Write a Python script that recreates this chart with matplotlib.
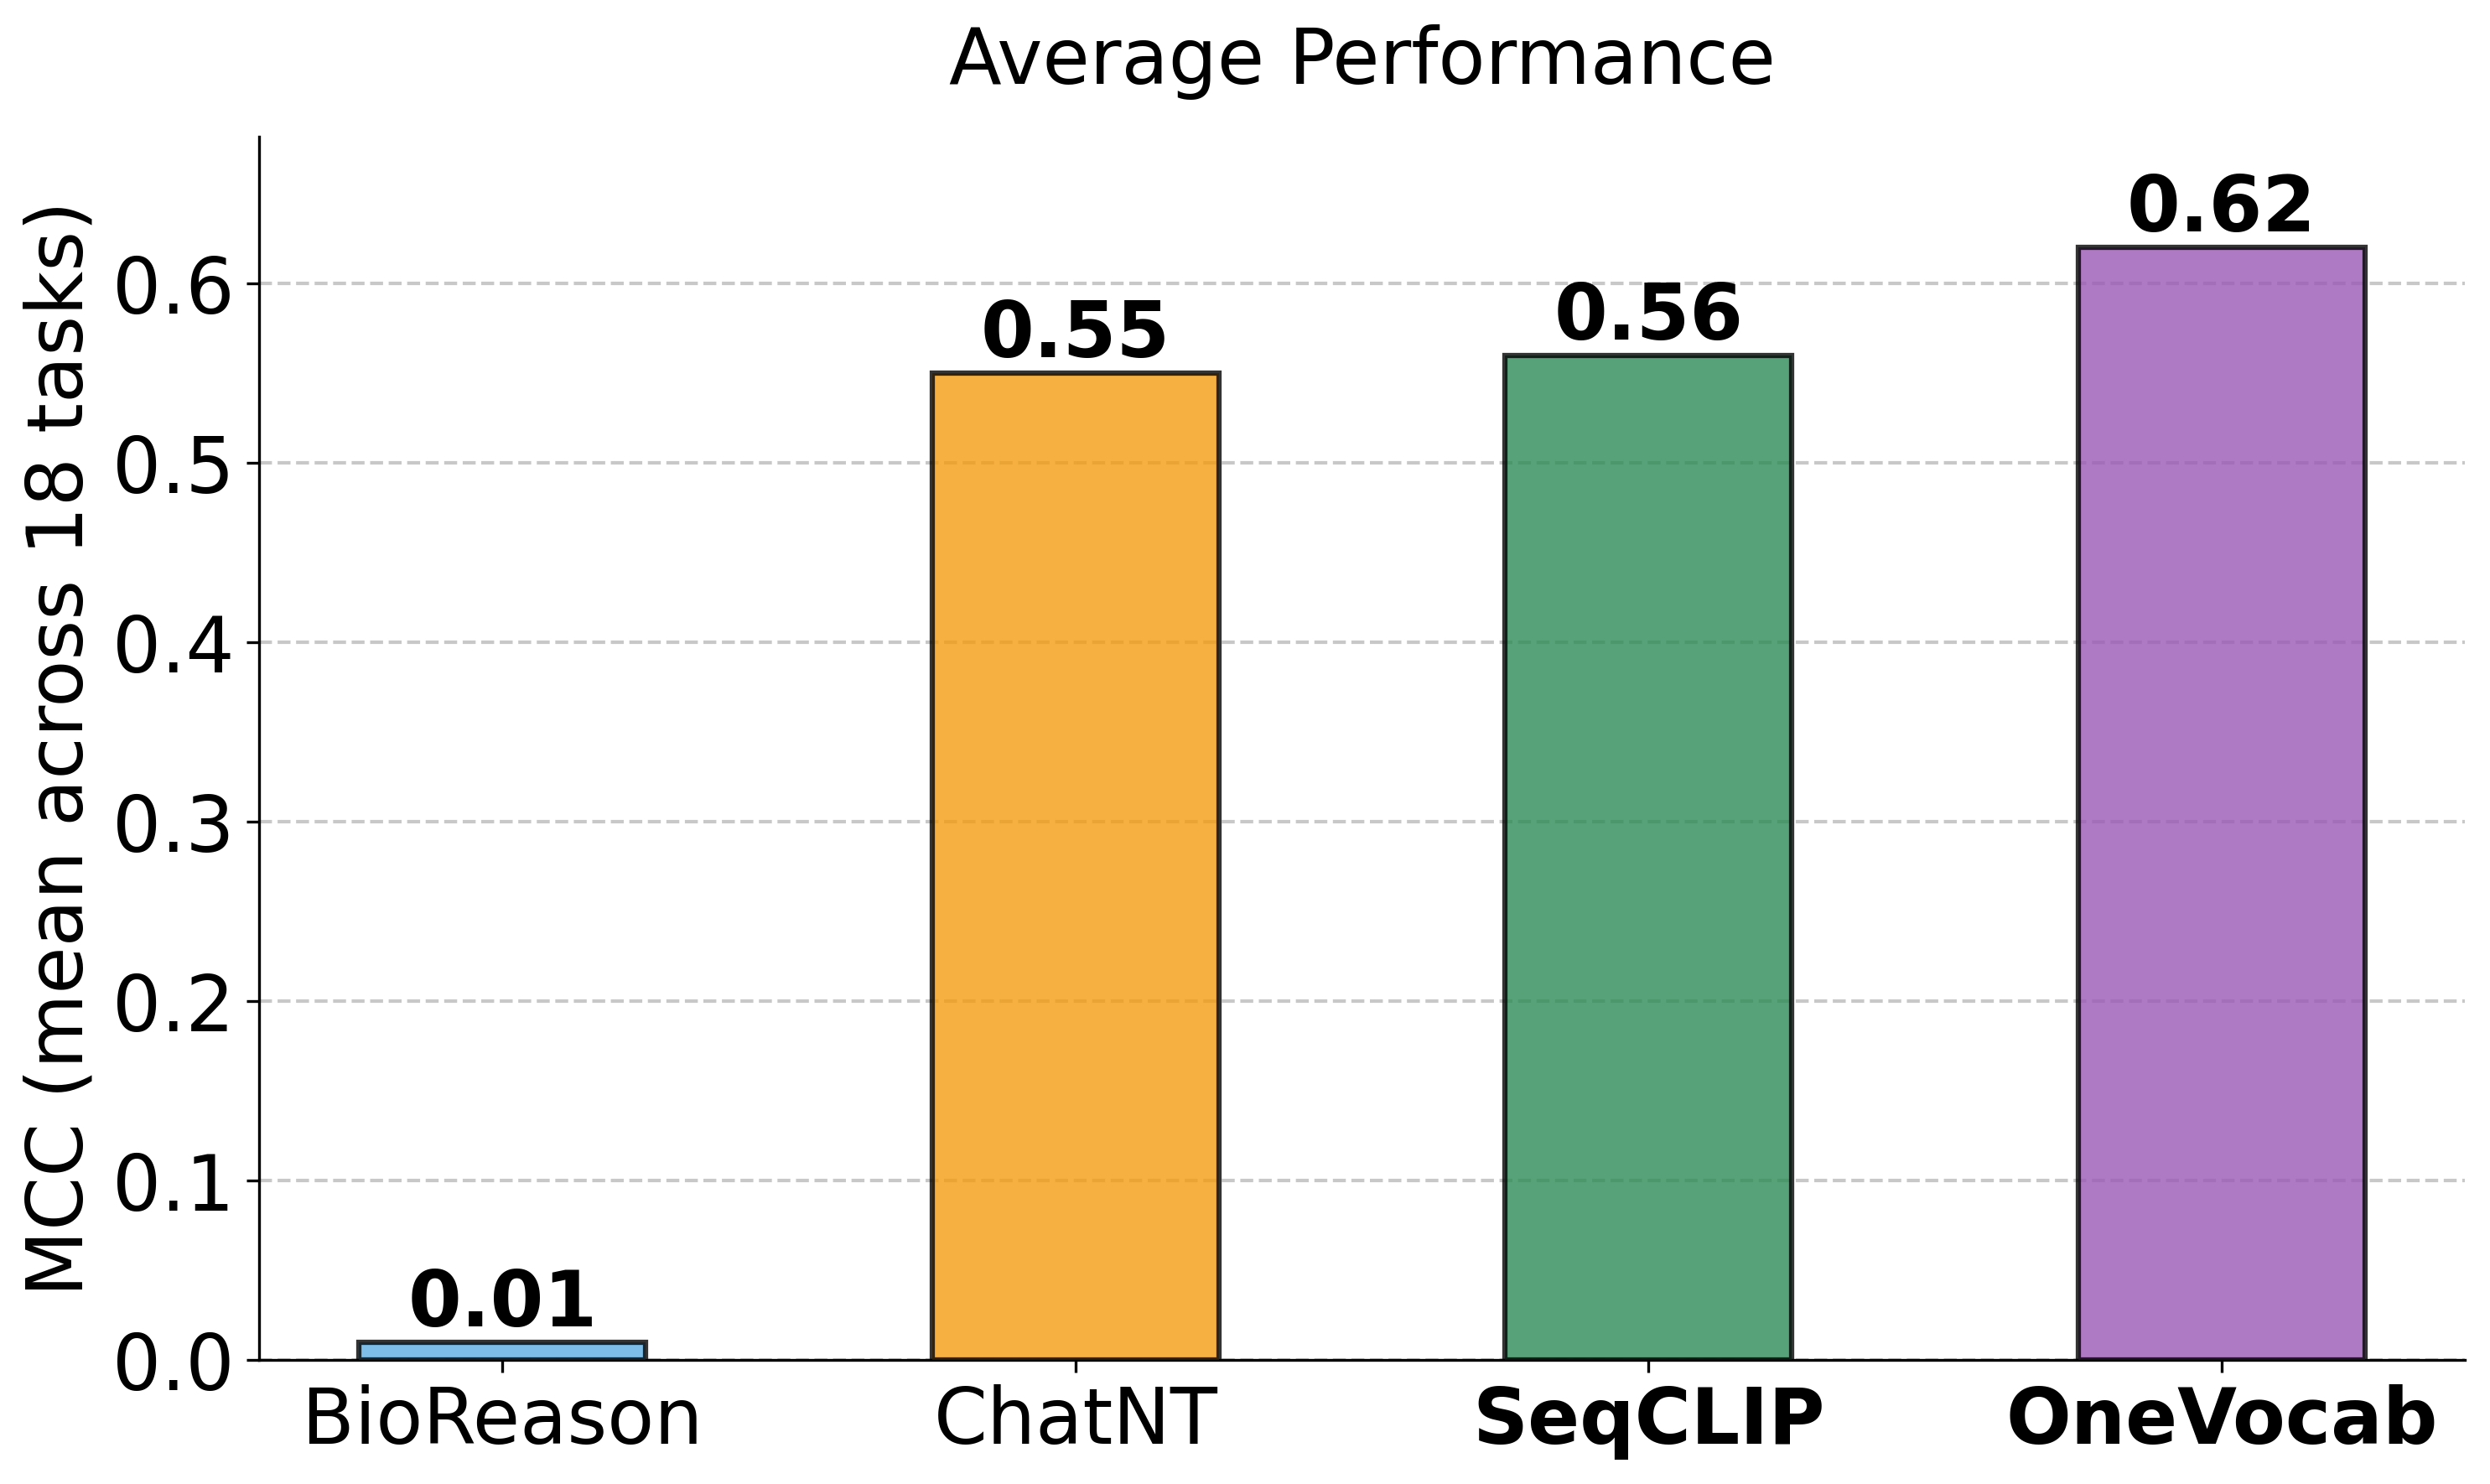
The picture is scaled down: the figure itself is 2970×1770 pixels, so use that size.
import matplotlib
matplotlib.use("Agg")
import matplotlib.pyplot as plt

models = ["BioReason", "ChatNT", "SeqCLIP", "OneVocab"]
mcc_mean = [0.01, 0.55, 0.56, 0.62]
bar_colors = ["#5DADE2", "#F39C12", "#2E8B57", "#9B59B6"]
bold_models = ["SeqCLIP", "OneVocab"]

fig = plt.figure(figsize=(9.9, 5.9), dpi=300)
ax = fig.add_axes([0.104, 0.0836, 0.886, 0.8244])

x = list(range(len(models)))
bars = ax.bar(x, mcc_mean, width=0.5, color=bar_colors, alpha=0.8,
              edgecolor="black", linewidth=1.5, zorder=3)

for b, v in zip(bars, mcc_mean):
    ax.text(b.get_x() + b.get_width() / 2, v, f"{v:.2f}",
            ha="center", va="bottom", fontsize=22, fontweight="bold", zorder=4)

ax.set_ylim(0, max(mcc_mean) * 1.1)
ax.set_xticks(x)
ax.set_xticklabels(models, fontsize=22)
for lbl in ax.get_xticklabels():
    if lbl.get_text() in bold_models:
        lbl.set_fontweight("bold")
ax.tick_params(axis="y", labelsize=22)
ax.set_ylabel("MCC (mean across 18 tasks)", fontsize=22)
ax.set_title("Average Performance", fontsize=22, pad=15)

ax.yaxis.grid(True, linestyle="--", color="#bbbbbb", alpha=0.8, linewidth=1.0, zorder=0)
ax.set_axisbelow(True)
ax.spines["top"].set_visible(False)
ax.spines["right"].set_visible(False)

fig.savefig("out.png", dpi=300)
